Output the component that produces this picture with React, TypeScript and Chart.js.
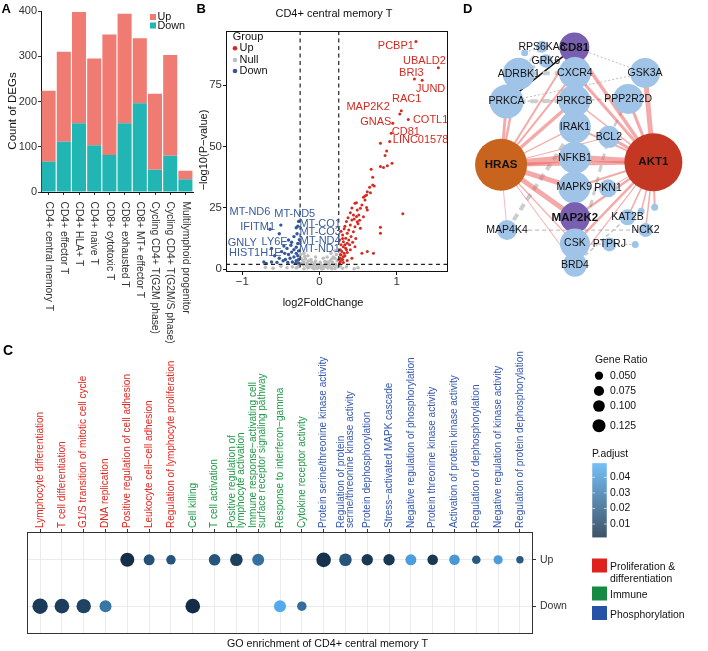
import React, { useEffect, useRef } from 'react';
import { Chart, registerables } from 'chart.js';

Chart.register(...registerables);

const FONT = "'Liberation Sans', Arial, Helvetica, sans-serif";

// ---------------- Panel A data ----------------
const cellTypes = [
  'CD4+ central memory T',
  'CD4+ effector T',
  'CD4+ HLA+ T',
  'CD4+ naive T',
  'CD8+ cytotoxic T',
  'CD8+ exhausted T',
  'CD8+ MT+ effector T',
  'Cycling CD4+ T(G2M phase)',
  'Cycling CD4+ T(G2M/S phase)',
  'Multilymphoid progenitor',
];
const degDown = [67, 111, 152, 103, 82, 152, 196, 49, 80, 28];
const degUp = [157, 199, 246, 192, 266, 242, 144, 168, 223, 19];
const degTicks = [0, 100, 200, 300, 400];

// ---------------- Panel B data ----------------
const volcanoTitle = 'CD4+ central memory T';
const volcanoUp: number[][] = [
  [1.25, 92.7], [1.54, 82], [1.23, 77.5], [1.33, 77], [1.04, 63.2], [1.06, 64.5], [0.95, 59.4], [1.15, 61],
  [0.93, 55.4], [0.91, 52], [0.79, 51.3], [0.87, 48.2], [0.85, 46.3], [0.94, 43.2], [0.88, 42.2], [0.83, 41.4],
  [0.79, 41.8], [0.67, 40.7], [0.69, 37.5], [0.69, 34.3], [0.71, 33.9], [0.65, 33.4], [0.62, 31.6], [0.66, 31.2],
  [0.59, 29.8], [0.57, 29.3], [0.61, 30.2], [0.59, 28.2], [0.48, 27.1], [0.46, 26.9], [0.55, 26.2], [0.61, 25.2],
  [0.62, 24.1], [0.53, 24.8], [0.49, 24.1], [0.44, 22.1], [0.51, 22.1], [0.57, 21.4], [1.08, 22.6], [0.42, 20.1],
  [0.49, 19.4], [0.40, 18.0], [0.46, 17.3], [0.53, 16.7], [0.79, 17.1], [0.79, 14.7], [0.38, 16.0], [0.44, 15.3],
  [0.36, 14.7], [0.41, 13.3], [0.34, 12.6], [0.38, 11.9], [0.31, 11.2], [0.36, 10.6], [0.31, 9.2], [0.34, 8.6],
  [0.46, 9.2], [0.29, 7.2], [0.32, 6.5], [0.28, 5.8], [0.31, 5.1], [0.27, 4.5], [0.55, 6.5], [0.62, 7.2],
  [0.70, 6.5], [0.27, 3.1], [0.29, 3.8], [0.30, 14.0], [0.33, 17.5], [0.35, 19.5], [0.37, 21.0], [0.40, 23.0],
  [0.42, 25.0], [0.45, 20.5], [0.48, 21.5], [0.50, 18.5], [0.52, 20.0], [0.27, 8.0], [0.28, 10.0], [0.30, 12.5],
  [0.33, 10.0], [0.35, 8.0], [0.26, 2.5], [0.27, 6.0], [0.30, 4.0], [0.33, 5.5], [0.36, 6.8], [0.40, 8.0],
  [0.43, 11.0], [0.47, 12.5], [0.26, 12.0], [0.28, 15.5], [0.32, 16.5], [0.39, 10.0], [0.25, 4.0], [0.42, 4.5],
  [0.31, 2.8], [0.36, 3.6],
];
const volcanoDown: number[][] = [
  [-0.50, 18.0], [-0.64, 16.3], [-0.30, 16.9], [-0.52, 14.5], [-0.33, 13.3], [-0.40, 11.9], [-0.62, 8.5],
  [-0.49, 7.2], [-0.69, 2.4], [-0.62, 3.0], [-0.72, 3.0], [-0.28, 10.5], [-0.30, 9.0], [-0.33, 8.0],
  [-0.27, 7.5], [-0.36, 7.0], [-0.30, 6.5], [-0.40, 6.0], [-0.28, 5.5], [-0.33, 5.0], [-0.38, 4.5],
  [-0.44, 4.0], [-0.27, 4.0], [-0.30, 3.5], [-0.35, 3.0], [-0.41, 2.8], [-0.47, 3.5], [-0.52, 4.5],
  [-0.45, 6.5], [-0.42, 8.5], [-0.37, 9.8], [-0.26, 12.0], [-0.29, 14.5], [-0.27, 2.6], [-0.31, 2.4],
  [-0.55, 2.8], [-0.36, 11.0], [-0.58, 5.5], [-0.46, 9.5], [-0.27, 19.5], [-0.28, 17.5],
];
const volcanoNull: number[][] = [
  [-0.24, 4.5], [-0.22, 3.8], [-0.2, 3.0], [-0.18, 4.2], [-0.16, 2.5], [-0.14, 3.5], [-0.12, 2.0], [-0.1, 3.0],
  [-0.08, 1.5], [-0.06, 2.5], [-0.04, 1.2], [-0.02, 2.0], [0, 1.0], [0.02, 1.8], [0.04, 0.8], [0.06, 1.5],
  [0.08, 2.2], [0.1, 3.0], [0.12, 2.5], [0.14, 3.5], [0.16, 4.2], [0.18, 5.0], [0.2, 4.5], [0.22, 6.0],
  [0.23, 3.5], [0.21, 2.0], [0.19, 1.5], [0.15, 0.8], [0.11, 0.5], [0.05, 0.3], [-0.03, 0.4], [-0.09, 0.6],
  [-0.13, 1.0], [-0.17, 1.4], [-0.21, 1.8], [-0.23, 2.4], [-0.19, 5.2], [-0.24, 6.0], [-0.11, 4.0], [0.07, 3.2],
  [0.13, 1.6], [0.01, 2.8], [-0.05, 3.4], [0.17, 2.8], [-0.15, 0.5], [0.2, 0.3], [-0.3, 0.5], [-0.35, 1.0],
  [-0.42, 0.6], [-0.5, 1.2], [-0.6, 0.4], [0.3, 0.4], [0.35, 1.0], [0.45, 0.2], [0.5, 0.6], [-0.7, 0.8],
  [0.24, 1.0], [-0.26, 1.5], [-0.28, 0.9], [0.27, 1.4], [-0.07, 0.2], [0.09, 1.0], [0.03, 0.1], [-0.01, 0.6],
  [-0.2, 0.2], [0.16, 0.2], [-0.2, 6.5], [-0.15, 5.5], [0.1, 5.0], [0.15, 6.5], [0.2, 7.5], [0.05, 4.5], [-0.05, 5.0],
];
const volcanoLabels = [
  { gene: 'PCBP1', x: 0.99, y: 91.0, group: 'Up' },
  { gene: 'UBALD2', x: 1.36, y: 84.9, group: 'Up' },
  { gene: 'BRI3', x: 1.19, y: 80.0, group: 'Up' },
  { gene: 'JUND', x: 1.44, y: 73.4, group: 'Up' },
  { gene: 'RAC1', x: 1.13, y: 69.3, group: 'Up' },
  { gene: 'MAP2K2', x: 0.63, y: 66.0, group: 'Up' },
  { gene: 'GNAS', x: 0.73, y: 60.1, group: 'Up' },
  { gene: 'COTL1', x: 1.44, y: 60.8, group: 'Up' },
  { gene: 'CD81', x: 1.12, y: 56.0, group: 'Up' },
  { gene: 'LINC01578', x: 1.31, y: 52.6, group: 'Up' },
  { gene: 'MT-ND6', x: -0.90, y: 23.2, group: 'Down' },
  { gene: 'MT-ND5', x: -0.32, y: 22.5, group: 'Down' },
  { gene: 'IFITM1', x: -0.80, y: 17.3, group: 'Down' },
  { gene: 'GNLY', x: -1.00, y: 10.8, group: 'Down' },
  { gene: 'LY6E', x: -0.58, y: 11.2, group: 'Down' },
  { gene: 'HIST1H1E', x: -0.83, y: 6.8, group: 'Down' },
  { gene: 'MT-CO1', x: 0.01, y: 18.4, group: 'Down' },
  { gene: 'MT-CO3', x: 0.01, y: 15.1, group: 'Down' },
  { gene: 'MT-ND4', x: 0.01, y: 11.6, group: 'Down' },
  { gene: 'MT-ND1', x: 0.0, y: 8.1, group: 'Down' },
];
const volcanoXTicks = [-1, 0, 1];
const volcanoYTicks = [0, 25, 50, 75];
const fcCutoff = 0.25;
const pCutoff = 2;

// ---------------- Panel C data ----------------
const goTerms: (string | string[])[] = [
  'Lymphocyte differentiation',
  'T cell differentiation',
  'G1/S transition of mitotic cell cycle',
  'DNA replication',
  'Positive regulation of cell adhesion',
  'Leukocyte cell\u2212cell adhesion',
  'Regulation of lymphocyte proliferation',
  'Cell killing',
  'T cell activation',
  ['Positive regulation of', 'lymphocyte activation'],
  ['Immune response\u2212activating cell', 'surface receptor signaling pathway'],
  'Response to interferon\u2212gamma',
  'Cytokine receptor activity',
  'Protein serine/threonine kinase activity',
  ['Regulation of protein', 'serine/threonine kinase activity'],
  'Protein dephosphorylation',
  'Stress\u2212activated MAPK cascade',
  'Negative regulation of phosphorylation',
  'Protein threonine kinase activity',
  'Activation of protein kinase activity',
  'Regulation of dephosphorylation',
  'Negative regulation of kinase activity',
  'Regulation of protein dephosphorylation',
];
const goGroup = [0, 0, 0, 0, 0, 0, 0, 1, 1, 1, 1, 1, 1, 2, 2, 2, 2, 2, 2, 2, 2, 2, 2];
const goUpRatio = [null, null, null, null, 0.143, 0.088, 0.065, null, 0.098, 0.116, 0.105, null, null, 0.156, 0.116, 0.095, 0.095, 0.088, 0.082, 0.082, 0.054, 0.062, 0.040];
const goUpPadj = [null, null, null, null, 0.003, 0.015, 0.016, null, 0.016, 0.009, 0.026, null, null, 0.004, 0.016, 0.006, 0.006, 0.042, 0.006, 0.040, 0.018, 0.042, 0.018];
const goDownRatio = [0.173, 0.156, 0.151, 0.105, null, null, null, 0.156, null, null, null, 0.105, 0.065, null, null, null, null, null, null, null, null, null, null];
const goDownPadj = [0.007, 0.008, 0.010, 0.028, null, null, null, 0.002, null, null, null, 0.046, 0.025, null, null, null, null, null, null, null, null, null, null];
const goRowLabels = ['Down', 'Up'];
const ratioBreaks = [0.05, 0.075, 0.1, 0.125];
const padjBreaks = [0.01, 0.02, 0.03, 0.04];
const padjLimits = [0.0015, 0.049];
const goCategoryNames = [['Proliferation &', 'differentiation'], ['Immune'], ['Phosphorylation']];
const goTitle = 'GO enrichment of CD4+ central memory T';

// ---------------- Panel D data ----------------
const nodeNames = ['CD81', 'RPS6KA3', 'S1', 'GRK6', 'ADRBK1', 'CXCR4', 'GSK3A', 'PRKCA', 'PRKCB', 'PPP2R2D', 'IRAK1', 'BCL2', 'HRAS', 'AKT1', 'NFKB1', 'MAPK9', 'PKN1', 'MAP2K2', 'KAT2B', 'S2', 'S3', 'MAP4K4', 'NCK2', 'CSK', 'PTPRJ', 'S4', 'BRD4'];
const nodeX = [573.3, 531.7, 509.3, 536.7, 501.7, 574, 664.3, 486, 573.3, 642.7, 574, 617.7, 479, 675, 574, 573.3, 616.7, 574, 641.7, 659.3, 676.7, 486.7, 665, 574, 618.3, 651.7, 574];
const nodeY = [22.7, 21.7, 29.3, 39.3, 55, 54, 54, 89.3, 88.3, 86, 120.7, 132.7, 167, 164, 158.3, 195, 196, 231.7, 231.7, 224.3, 219.3, 247.3, 247.3, 264, 265, 265, 290];
const nodeSize = [15, 6, 3.5, 6.7, 16, 16, 15, 17, 16, 15, 16, 11, 26, 29, 16, 16, 9, 15, 8, 3.5, 3.5, 10, 7, 15, 7, 3.5, 12];
const nodeKind = ['key', 'gene', 'dot', 'gene', 'gene', 'gene', 'gene', 'gene', 'gene', 'gene', 'gene', 'gene', 'hras', 'akt1', 'gene', 'gene', 'gene', 'key', 'gene', 'dot', 'dot', 'gene', 'gene', 'gene', 'gene', 'dot', 'gene'];
// [from, to, type, width]
const edgeList: [string, string, string, number][] = [
  ['HRAS', 'NFKB1', 'pink', 7], ['AKT1', 'NFKB1', 'pink', 6], ['HRAS', 'AKT1', 'pink', 4], ['HRAS', 'MAPK9', 'pink', 5],
  ['HRAS', 'MAP2K2', 'pink', 5], ['HRAS', 'PRKCB', 'pink', 3.5], ['HRAS', 'PRKCA', 'pink', 3], ['HRAS', 'ADRBK1', 'pink', 2.5],
  ['HRAS', 'CD81', 'pink', 2], ['HRAS', 'CXCR4', 'pink', 2], ['HRAS', 'IRAK1', 'pink', 1.2], ['HRAS', 'CSK', 'pink', 1.2],
  ['HRAS', 'BRD4', 'pink', 1], ['HRAS', 'MAP4K4', 'pink', 0.8], ['HRAS', 'BCL2', 'pink', 1],
  ['AKT1', 'GSK3A', 'pink', 5], ['AKT1', 'CD81', 'pink', 3.5], ['AKT1', 'CXCR4', 'pink', 3], ['AKT1', 'PPP2R2D', 'pink', 3],
  ['AKT1', 'BCL2', 'pink', 3], ['AKT1', 'PRKCB', 'pink', 1.5], ['AKT1', 'IRAK1', 'pink', 2], ['AKT1', 'MAPK9', 'pink', 2],
  ['AKT1', 'PKN1', 'pink', 1], ['AKT1', 'MAP2K2', 'pink', 2.5], ['AKT1', 'KAT2B', 'pink', 1.5], ['AKT1', 'S2', 'pink', 1.5],
  ['AKT1', 'S3', 'pink', 2], ['AKT1', 'NCK2', 'pink', 1.5], ['AKT1', 'CSK', 'pink', 2.5], ['AKT1', 'BRD4', 'pink', 1.2],
  ['PRKCA', 'PRKCB', 'grey', 4], ['ADRBK1', 'CXCR4', 'grey', 4], ['ADRBK1', 'PRKCA', 'grey', 3], ['MAP4K4', 'IRAK1', 'grey', 4],
  ['BRD4', 'BCL2', 'grey', 3], ['BCL2', 'PPP2R2D', 'grey', 2.5], ['RPS6KA3', 'ADRBK1', 'grey', 2.5], ['GRK6', 'ADRBK1', 'grey', 3],
  ['CD81', 'GSK3A', 'dot', 1], ['PRKCA', 'GSK3A', 'dot', 1], ['MAPK9', 'PKN1', 'dot', 1], ['CSK', 'PTPRJ', 'dot', 1.2],
  ['PTPRJ', 'S4', 'dot', 1.2], ['RPS6KA3', 'S1', 'dot', 1], ['MAP4K4', 'NCK2', 'dash', 1.2], ['PRKCA', 'PPP2R2D', 'dash', 1.5],
  ['BRD4', 'KAT2B', 'dash', 1.5],
  ['CD81', 'PRKCA', 'black', 1.5], ['CD81', 'CXCR4', 'black', 1.5], ['MAPK9', 'MAP2K2', 'blackdash', 3], ['MAP2K2', 'CSK', 'blackdash', 3],
];

// ---------------- helpers ----------------
const groupTextColors = ['#E3261F', '#1E9A46', '#3458B0'];
const groupKeyColors = ['#E0221E', '#168A45', '#2852A6'];
const lowColor = [19, 43, 67];
const highColor = [86, 177, 247];

function padjColor(p: number) {
  let t = (p - padjLimits[0]) / (padjLimits[1] - padjLimits[0]);
  t = Math.max(0, Math.min(1, t));
  const c = lowColor.map((v, i) => Math.round(v + (highColor[i] - v) * t));
  return `rgb(${c[0]},${c[1]},${c[2]})`;
}
function ratioRadius(r: number) {
  return 18.5 * Math.sqrt(r);
}
function text(ctx: any, s: string, x: number, y: number, size: number, color: string, align = 'left', rot = 0, weight = 'normal') {
  ctx.save();
  ctx.font = `${weight} ${size}px ${FONT}`;
  ctx.fillStyle = color;
  ctx.textAlign = align;
  ctx.textBaseline = 'middle';
  ctx.translate(x, y);
  if (rot) ctx.rotate(rot);
  ctx.fillText(s, 0, 0);
  ctx.restore();
}
const minus = (v: number) => (v < 0 ? '\u2212' + Math.abs(v) : String(v));

// ---------------- Panel A ----------------
const pluginA = {
  id: 'panelA',
  afterDraw(chart: any) {
    const { ctx, chartArea } = chart;
    const xs = chart.scales.x;
    cellTypes.forEach((lab, i) => {
      text(ctx, lab, xs.getPixelForValue(i), chartArea.bottom + 9.5, 10.3, '#333', 'left', Math.PI / 2);
    });
    text(ctx, 'Count of DEGs', 12.5, 111, 11.5, '#111', 'center', -Math.PI / 2);
    ctx.save();
    ctx.fillStyle = '#F07B72';
    ctx.fillRect(150, 14, 6, 6);
    ctx.fillStyle = '#21B5B3';
    ctx.fillRect(150, 22.5, 6, 6);
    ctx.restore();
    text(ctx, 'Up', 157.5, 16.8, 10.8, '#111');
    text(ctx, 'Down', 157.5, 25.8, 10.8, '#111');
  },
};

function configA(): any {
  return {
    type: 'bar',
    data: {
      labels: cellTypes,
      datasets: [
        { label: 'Down', data: degDown, backgroundColor: '#21B5B3', borderWidth: 0, barPercentage: 0.925, categoryPercentage: 1 },
        { label: 'Up', data: degUp, backgroundColor: '#F07B72', borderWidth: 0, barPercentage: 0.925, categoryPercentage: 1 },
      ],
    },
    options: {
      animation: false,
      responsive: false,
      events: [],
      layout: { padding: { left: 0, top: 11, right: 7, bottom: 0 } },
      plugins: { legend: { display: false }, tooltip: { enabled: false } },
      scales: {
        x: {
          type: 'category',
          stacked: true,
          ticks: { display: false },
          grid: { drawOnChartArea: false, offset: false, tickLength: 3, tickColor: '#333' },
          border: { display: true, color: '#111', width: 1 },
          afterFit: (s: any) => { s.height = 153; },
        },
        y: {
          stacked: true,
          min: 0,
          max: 400,
          afterBuildTicks: (s: any) => { s.ticks = degTicks.map((v) => ({ value: v })); },
          ticks: { font: { family: FONT, size: 11 }, color: '#333', padding: 1 },
          grid: { drawOnChartArea: false, tickLength: 3, tickColor: '#333' },
          border: { display: true, color: '#111', width: 1 },
          afterFit: (s: any) => { s.width = 41; },
        },
      },
    },
    plugins: [pluginA],
  };
}

// ---------------- Panel B ----------------
const upColor = '#D42A20';
const downColor = '#34589A';
const nullColor = '#BEBEBE';

const pluginB = {
  id: 'panelB',
  afterDatasetsDraw(chart: any) {
    const { ctx, chartArea: ca } = chart;
    const xs = chart.scales.x;
    const ys = chart.scales.y;
    ctx.save();
    ctx.strokeStyle = '#222';
    ctx.lineWidth = 1.2;
    ctx.setLineDash([4, 3.5]);
    [-fcCutoff, fcCutoff].forEach((v) => {
      const x = xs.getPixelForValue(v);
      ctx.beginPath();
      ctx.moveTo(x, ca.top);
      ctx.lineTo(x, ca.bottom);
      ctx.stroke();
    });
    const y = ys.getPixelForValue(pCutoff);
    ctx.beginPath();
    ctx.moveTo(ca.left, y);
    ctx.lineTo(ca.right, y);
    ctx.stroke();
    ctx.restore();
    volcanoLabels.forEach((l) => {
      text(ctx, l.gene, xs.getPixelForValue(l.x), ys.getPixelForValue(l.y), 11, l.group === 'Up' ? '#D42A20' : '#3A5C9E', 'center');
    });
  },
  afterDraw(chart: any) {
    const { ctx, chartArea: ca } = chart;
    ctx.save();
    ctx.strokeStyle = '#111';
    ctx.lineWidth = 1;
    ctx.strokeRect(ca.left + 0.5, ca.top + 0.5, ca.width - 1, ca.height - 1);
    ctx.restore();
    text(ctx, volcanoTitle, 139, 14, 11, '#111', 'center');
    text(ctx, 'log2FoldChange', 128, 302.7, 11, '#111', 'center');
    text(ctx, '\u2212log10(P\u2212value)', 9, 150, 11, '#111', 'center', -Math.PI / 2);
    text(ctx, 'Group', 37.7, 37.3, 11, '#111');
    const items: [string, string, number][] = [['Up', upColor, 48.3], ['Null', nullColor, 60], ['Down', downColor, 71]];
    items.forEach(([lab, col, yy]) => {
      ctx.save();
      ctx.fillStyle = col;
      ctx.beginPath();
      ctx.arc(40, yy, 2.3, 0, Math.PI * 2);
      ctx.fill();
      ctx.restore();
      text(ctx, lab, 44.5, yy, 11, '#111');
    });
  },
};

function configB(): any {
  const pts = (arr: number[][]) => arr.map(([x, y]) => ({ x, y }));
  return {
    type: 'scatter',
    data: {
      datasets: [
        { label: 'Up', data: pts(volcanoUp), pointRadius: 1.5, pointBackgroundColor: upColor, pointBorderWidth: 0, order: 0 },
        { label: 'Down', data: pts(volcanoDown), pointRadius: 1.7, pointBackgroundColor: downColor, pointBorderWidth: 0, order: 1 },
        { label: 'Null', data: pts(volcanoNull), pointRadius: 1.8, pointBackgroundColor: nullColor, pointBorderWidth: 0, order: 2 },
      ],
    },
    options: {
      animation: false,
      responsive: false,
      events: [],
      layout: { padding: { left: 0, top: 31, right: 17, bottom: 0 } },
      plugins: { legend: { display: false }, tooltip: { enabled: false } },
      scales: {
        x: {
          type: 'linear',
          min: -1.21,
          max: 1.665,
          afterBuildTicks: (s: any) => { s.ticks = volcanoXTicks.map((v) => ({ value: v })); },
          ticks: { callback: (v: number) => minus(v), font: { family: FONT, size: 11.5 }, color: '#333', padding: 0, maxRotation: 0 },
          grid: { drawOnChartArea: false, tickLength: 3, tickColor: '#111' },
          border: { display: false },
          afterFit: (s: any) => { s.height = 48; },
        },
        y: {
          type: 'linear',
          min: -1.1,
          max: 97,
          afterBuildTicks: (s: any) => { s.ticks = volcanoYTicks.map((v) => ({ value: v })); },
          ticks: { callback: (v: number) => minus(v), font: { family: FONT, size: 11.5 }, color: '#333', padding: 1 },
          grid: { drawOnChartArea: false, tickLength: 3, tickColor: '#111' },
          border: { display: false },
          afterFit: (s: any) => { s.width = 31; },
        },
      },
    },
    plugins: [pluginB],
  };
}

// ---------------- Panel C ----------------
const pluginC = {
  id: 'panelC',
  afterDraw(chart: any) {
    const { ctx, chartArea: ca } = chart;
    const xs = chart.scales.x;
    ctx.save();
    ctx.strokeStyle = '#333';
    ctx.lineWidth = 1;
    ctx.strokeRect(ca.left + 0.5, ca.top + 0.5, ca.width - 1, ca.height - 1);
    ctx.restore();
    goTerms.forEach((t, i) => {
      const lines = Array.isArray(t) ? t : [t];
      const x = xs.getPixelForValue(i);
      lines.forEach((ln, j) => {
        const off = (j - (lines.length - 1) / 2) * 9;
        text(ctx, ln, x + off, ca.top - 4, 10, groupTextColors[goGroup[i]], 'left', -Math.PI / 2);
      });
    });
    text(ctx, goTitle, 327.5, 324, 10.7, '#111', 'center');

    // Gene ratio legend
    text(ctx, 'Gene Ratio', 595, 40, 10.4, '#111');
    const dotY = [55.7, 71, 86, 105.7];
    ratioBreaks.forEach((b, i) => {
      ctx.save();
      ctx.fillStyle = '#000';
      ctx.beginPath();
      ctx.arc(599, dotY[i], ratioRadius(b), 0, Math.PI * 2);
      ctx.fill();
      ctx.restore();
      text(ctx, b.toFixed(3), 610, dotY[i], 10.4, '#111');
    });

    // P.adjust colourbar
    text(ctx, 'P.adjust', 592, 134, 10.4, '#111');
    const bx = 592.3, bw = 14.4, by = 143.3, bh = 74;
    const yOf = (v: number) => by + ((padjLimits[1] - v) / (padjLimits[1] - padjLimits[0])) * bh;
    for (let k = 0; k < bh; k++) {
      const v = padjLimits[1] - ((k + 0.5) / bh) * (padjLimits[1] - padjLimits[0]);
      ctx.fillStyle = padjColor(v);
      ctx.fillRect(bx, by + k, bw, 1.05);
    }
    ctx.save();
    ctx.strokeStyle = 'rgba(255,255,255,0.8)';
    ctx.lineWidth = 0.8;
    padjBreaks.forEach((b) => {
      const y = yOf(b);
      ctx.beginPath();
      ctx.moveTo(bx, y); ctx.lineTo(bx + 2.8, y);
      ctx.moveTo(bx + bw - 2.8, y); ctx.lineTo(bx + bw, y);
      ctx.stroke();
      text(ctx, b.toFixed(2), 610, y, 10.4, '#111');
    });
    ctx.restore();

    // Category legend
    const keyY = [238.5, 266.5, 286];
    goCategoryNames.forEach((names, i) => {
      ctx.save();
      ctx.fillStyle = groupKeyColors[i];
      ctx.fillRect(592, keyY[i], 15, 14);
      ctx.restore();
    });
    text(ctx, goCategoryNames[0][0], 610, 246.7, 10.4, '#111');
    text(ctx, goCategoryNames[0][1], 610, 259, 10.4, '#111');
    text(ctx, goCategoryNames[1][0], 610, 274.7, 10.4, '#111');
    text(ctx, goCategoryNames[2][0], 610, 295, 10.4, '#111');
  },
};

function configC(): any {
  const mk = (ratios: (number | null)[], padj: (number | null)[], row: number) =>
    ratios
      .map((r, i) => (r == null ? null : { x: i, y: row, ratio: r, padj: padj[i] }))
      .filter((d) => d !== null);
  return {
    type: 'scatter',
    data: {
      datasets: [
        {
          label: 'Up',
          data: mk(goUpRatio, goUpPadj, 1),
          pointRadius: (c: any) => ratioRadius(c.raw ? c.raw.ratio : 0.05),
          pointBackgroundColor: (c: any) => padjColor(c.raw ? c.raw.padj : 0.02),
          pointBorderWidth: 0,
        },
        {
          label: 'Down',
          data: mk(goDownRatio, goDownPadj, 0),
          pointRadius: (c: any) => ratioRadius(c.raw ? c.raw.ratio : 0.05),
          pointBackgroundColor: (c: any) => padjColor(c.raw ? c.raw.padj : 0.02),
          pointBorderWidth: 0,
        },
      ],
    },
    options: {
      animation: false,
      responsive: false,
      events: [],
      layout: { padding: { left: 27, top: 0, right: 0, bottom: 17 } },
      plugins: { legend: { display: false }, tooltip: { enabled: false } },
      scales: {
        x: {
          type: 'linear',
          position: 'top',
          min: -0.6,
          max: goTerms.length - 0.4,
          afterBuildTicks: (s: any) => { s.ticks = goTerms.map((_, i) => ({ value: i })); },
          ticks: { display: false },
          grid: { color: '#EBEBEB', tickColor: '#333', tickLength: 3, lineWidth: 1 },
          border: { display: false },
          afterFit: (s: any) => { s.height = 212; },
        },
        y: {
          type: 'linear',
          position: 'right',
          min: -0.6,
          max: 1.6,
          afterBuildTicks: (s: any) => { s.ticks = [{ value: 0 }, { value: 1 }]; },
          ticks: { callback: (v: number) => goRowLabels[v], font: { family: FONT, size: 10.5 }, color: '#333', padding: 4 },
          grid: { color: '#EBEBEB', tickColor: '#333', tickLength: 3, lineWidth: 1 },
          border: { display: false },
          afterFit: (s: any) => { s.width = 175; },
        },
      },
    },
    plugins: [pluginC],
  };
}

// ---------------- Panel D ----------------
const nodeFill: Record<string, string> = {
  gene: '#A0C4E8',
  dot: '#A0C4E8',
  key: '#785FAF',
  hras: '#C8641E',
  akt1: '#C33723',
};
const edgeStyle: Record<string, { color: string; dash: number[] }> = {
  pink: { color: 'rgba(236,100,100,0.55)', dash: [] },
  grey: { color: '#CDCDCD', dash: [7, 5] },
  dot: { color: '#BDBDBD', dash: [2, 2] },
  dash: { color: '#C4C4C4', dash: [4, 3] },
  black: { color: '#111', dash: [] },
  blackdash: { color: '#111', dash: [3, 3] },
};

const pluginD = {
  id: 'panelD',
  afterDatasetsDraw(chart: any) {
    const { ctx } = chart;
    const xs = chart.scales.x;
    const ys = chart.scales.y;
    nodeNames.forEach((n, i) => {
      const k = nodeKind[i];
      if (k === 'dot') return;
      const bold = k !== 'gene';
      text(ctx, n, xs.getPixelForValue(nodeX[i]), ys.getPixelForValue(nodeY[i]), bold ? 11.5 : 10.5, '#111', 'center', 0, bold ? 'bold' : 'normal');
    });
  },
};

function configD(): any {
  const idx = (n: string) => nodeNames.indexOf(n);
  const edgeSets = edgeList.map(([a, b, type, w]) => {
    const ia = idx(a), ib = idx(b);
    const st = edgeStyle[type];
    return {
      data: [{ x: nodeX[ia], y: nodeY[ia] }, { x: nodeX[ib], y: nodeY[ib] }],
      showLine: true,
      borderColor: st.color,
      borderWidth: w,
      borderDash: st.dash,
      pointRadius: 0,
      pointHoverRadius: 0,
      order: 1,
      clip: false,
    };
  });
  return {
    type: 'scatter',
    data: {
      datasets: [
        {
          label: 'nodes',
          data: nodeNames.map((_, i) => ({ x: nodeX[i], y: nodeY[i] })),
          pointRadius: nodeSize,
          pointHoverRadius: nodeSize,
          pointBackgroundColor: nodeKind.map((k) => nodeFill[k]),
          pointBorderWidth: 0,
          order: 0,
          clip: false,
        },
        ...edgeSets,
      ],
    },
    options: {
      animation: false,
      responsive: false,
      events: [],
      layout: { padding: 0 },
      plugins: { legend: { display: false }, tooltip: { enabled: false } },
      scales: {
        x: { type: 'linear', display: false, min: 448, max: 708 },
        y: { type: 'linear', display: false, min: 0, max: 310, reverse: true },
      },
    },
    plugins: [pluginD],
  };
}

// ---------------- components ----------------
function ChartBox({ left, top, width, height, make }: { left: number; top: number; width: number; height: number; make: () => any }) {
  const ref = useRef<HTMLCanvasElement>(null);
  useEffect(() => {
    const chart = new Chart(ref.current as HTMLCanvasElement, make());
    return () => chart.destroy();
  }, []);
  return <canvas ref={ref} width={width} height={height} style={{ position: 'absolute', left, top, width, height }} />;
}

const letterStyle = (left: number, top: number): React.CSSProperties => ({
  position: 'absolute',
  left,
  top,
  fontFamily: FONT,
  fontWeight: 'bold',
  fontSize: 13,
  lineHeight: '13px',
  color: '#000',
});

export default function App() {
  return (
    <div style={{ position: 'absolute', left: 0, top: 0, width: 708, height: 651, background: '#fff', overflow: 'hidden' }}>
      <ChartBox left={0} top={0} width={200} height={345} make={configA} />
      <ChartBox left={195} top={0} width={270} height={320} make={configB} />
      <ChartBox left={448} top={0} width={260} height={310} make={configD} />
      <ChartBox left={0} top={320} width={708} height={331} make={configC} />
      <div style={letterStyle(1.5, 1.6)}>A</div>
      <div style={letterStyle(196.5, 1.6)}>B</div>
      <div style={letterStyle(463, 1.6)}>D</div>
      <div style={{ ...letterStyle(3, 342.5), fontSize: 14, lineHeight: '14px' }}>C</div>
    </div>
  );
}
